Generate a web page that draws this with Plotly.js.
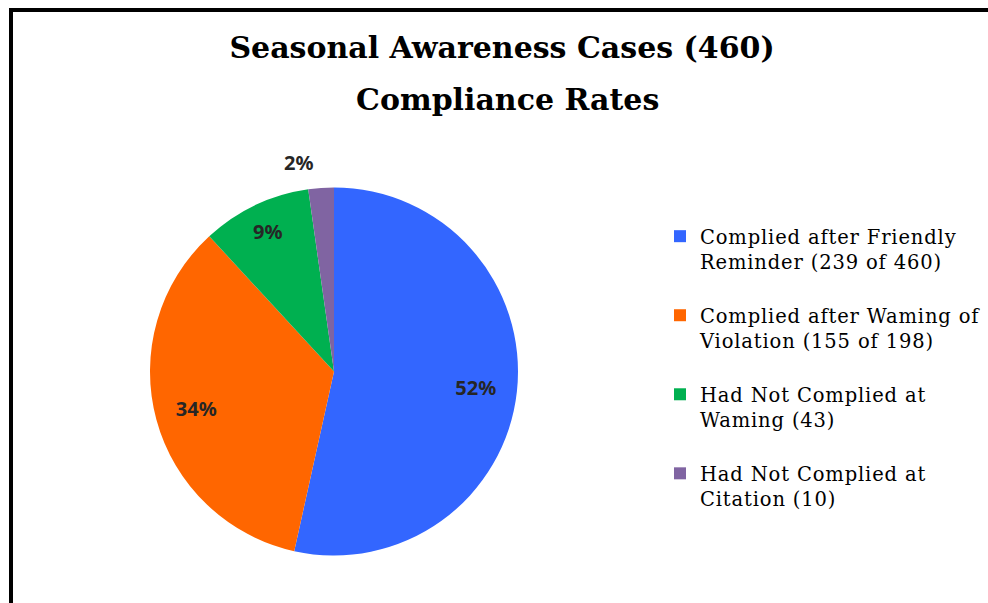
<!DOCTYPE html>
<html>
<head>
<meta charset="utf-8">
<script src="https://cdn.plot.ly/plotly-3.0.1.min.js"></script>
<style>
  html, body { margin: 0; padding: 0; background: #fff; }
  #chart { width: 988px; height: 603px; }
  #frame { position: absolute; left: 9px; top: 8px; width: 1000px; height: 620px;
           border-left: 4px solid #000; border-top: 4px solid #000; pointer-events: none; }
  #chart .legendtext { letter-spacing: 0.85px; }
  #chart .legend .scrollbox { clip-path: none !important; }
</style>
</head>
<body>
<div id="chart"></div>
<div id="frame"></div>
<script>
// ---- data ----
const legendLabels = [
  "Complied after Friendly<br>Reminder (239 of 460)<br> ",
  "Complied after Waming of<br>Violation (155 of 198)<br> ",
  "Had Not Complied at<br>Waming (43)<br> ",
  "Had Not Complied at<br>Citation (10)<br> "
];
const counts = [239, 155, 43, 10];
const percentLabels = ["52%", "34%", "9%", "2%"];
const colors = ["#3366FF", "#FF6600", "#00B050", "#8064A2"];
const titleLine1 = "Seasonal Awareness Cases (460)";
const titleLine2 = "Compliance Rates";

// ---- layout helpers ----
const W = 988, H = 603;
const cx = 334, cy = 371.5, R = 184;
function domainFor(r) {
  return { x: [(cx - r) / W, (cx + r) / W], y: [1 - (cy + r) / H, 1 - (cy - r) / H] };
}
const labelFont = { family: "Noto Sans, sans-serif", size: 20, color: "#262626", weight: "bold" };

function pick(idx) { return percentLabels.map((t, i) => idx.includes(i) ? t : ""); }

const main = {
  type: "pie", labels: legendLabels, values: counts,
  textinfo: "none", sort: false, direction: "clockwise", rotation: 0,
  marker: { colors: colors, line: { width: 0 } },
  hoverinfo: "skip", domain: domainFor(R)
};
function labelLayer(idx, hole, r, pos) {
  return {
    type: "pie", labels: legendLabels, values: counts,
    text: pick(idx), textinfo: "text", textposition: pos,
    insidetextorientation: "horizontal",
    sort: false, direction: "clockwise", rotation: 0, hole: hole,
    marker: { colors: colors.map(() => "rgba(0,0,0,0)"), line: { width: 0 } },
    textfont: labelFont, showlegend: false, hoverinfo: "skip",
    domain: domainFor(r)
  };
}

const data = [
  main,
  labelLayer([0, 1], 0.55, R, "inside"),
  labelLayer([2], 0.68, R, "inside"),
  labelLayer([3], 0, 196, "outside")
];

const layout = {
  width: W, height: H,
  margin: { l: 0, r: 0, t: 0, b: 0 },
  paper_bgcolor: "#ffffff",
  showlegend: true,
  title: {
    text: titleLine1,
    x: 502 / W, xanchor: "center",
    y: 1 - 47 / H, yanchor: "middle", yref: "container",
    font: { family: "DejaVu Serif, serif", size: 30, color: "#000", weight: "bold" }
  },
  annotations: [{
    text: titleLine2, showarrow: false,
    xref: "paper", yref: "paper",
    x: 507 / W, xanchor: "center",
    y: 1 - 99 / H, yanchor: "middle",
    font: { family: "DejaVu Serif, serif", size: 30, color: "#000", weight: "bold" }
  }],
  legend: {
    x: 660 / W, xanchor: "left",
    y: 1 - 217 / H, yanchor: "top",
    valign: "top",
    font: { family: "DejaVu Serif, serif", size: 19.5, color: "#000" },
    bgcolor: "rgba(0,0,0,0)",
    borderwidth: 0
  }
};

Plotly.newPlot("chart", data, layout, { displayModeBar: false, staticPlot: true });
</script>
</body>
</html>
